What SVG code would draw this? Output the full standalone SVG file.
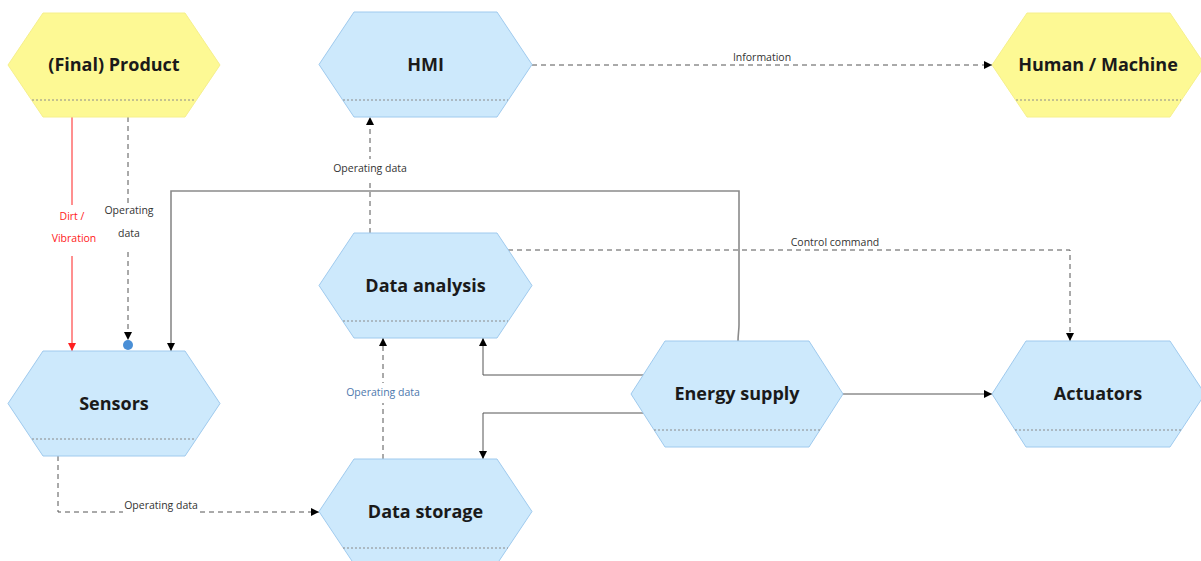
<svg xmlns="http://www.w3.org/2000/svg" width="1201" height="561" viewBox="0 0 1201 561">
<style>
.blue{fill:#cde9fc;stroke:#9fcaee;stroke-width:1}
.yellow{fill:#fdf994;stroke:#f6f08c;stroke-width:1}
.sep{stroke:#8a8a8a;stroke-width:1;stroke-dasharray:2,2;fill:none}
.title{font-family:"Open Sans",sans-serif;font-weight:bold;font-size:18px;fill:#1a1a1a;text-anchor:middle}
.lbl{font-family:"Open Sans",sans-serif;font-size:10.5px;fill:#333;text-anchor:middle}
.dash{fill:none;stroke:#555;stroke-width:1;stroke-dasharray:5,4}
.solid{fill:none;stroke:#555;stroke-width:1}
.solid2{fill:none;stroke:#8a8a8a;stroke-width:1.6}
.red{fill:none;stroke:#ff2020;stroke-width:1}
.bg{fill:#fff}
</style>
<defs>
<marker id="ah" viewBox="0 0 10 10" refX="10" refY="5" markerWidth="8" markerHeight="8" markerUnits="userSpaceOnUse" orient="auto"><path d="M0,0 L10,5 L0,10 z" fill="#000"/></marker>
<marker id="ahr" viewBox="0 0 10 10" refX="10" refY="5" markerWidth="8" markerHeight="8" markerUnits="userSpaceOnUse" orient="auto"><path d="M0,0 L10,5 L0,10 z" fill="#ff2020"/></marker>
</defs>

<g id="connectors">
<path class="dash" d="M532,65 L992,65" marker-end="url(#ah)"/>
<path class="dash" d="M370,233 L370,117" marker-end="url(#ah)"/>
<path class="dash" d="M508,250 L1070,250 L1070,341" marker-end="url(#ah)"/>
<path class="solid2" d="M738,341 C738,335 739,330 739,325 L739,191 L171,191 L171,351" marker-end="url(#ah)"/>
<path class="solid" d="M643,375 L483,375 L483,338" marker-end="url(#ah)"/>
<path class="solid" d="M643,413 L483,413 L483,459" marker-end="url(#ah)"/>
<path class="solid" d="M843,394 L992,394" marker-end="url(#ah)"/>
<path class="dash" d="M383,459 L383,338" marker-end="url(#ah)"/>
<path class="dash" d="M58,456 L58,512 L319,512" marker-end="url(#ah)"/>
<path class="red" d="M72,117 L72,351" marker-end="url(#ahr)"/>
<path class="dash" d="M128,117 L128,340" marker-end="url(#ah)"/>
<circle cx="128" cy="345" r="5" fill="#4a8fd6"/>

<rect class="bg" x="731" y="50" width="62" height="14"/>
<text class="lbl" x="762" y="61">Information</text>
<rect class="bg" x="332" y="159" width="76" height="20"/>
<text class="lbl" x="370" y="172">Operating data</text>
<rect class="bg" x="790" y="236" width="91" height="13"/>
<text class="lbl" x="835" y="246">Control command</text>
<rect class="bg" x="345" y="383" width="76" height="20"/>
<text class="lbl" x="383" y="396" style="fill:#4d78ad">Operating data</text>
<rect class="bg" x="123" y="498" width="76" height="16"/>
<text class="lbl" x="161" y="509">Operating data</text>
<rect class="bg" x="48" y="205" width="48" height="51"/>
<text class="lbl" x="72" y="220" style="fill:#ff2020">Dirt /</text>
<text class="lbl" x="74" y="242" style="fill:#ff2020">Vibration</text>
<rect class="bg" x="103" y="203" width="51" height="47"/>
<text class="lbl" x="129" y="214">Operating</text>
<text class="lbl" x="129" y="237">data</text>
</g>

<g id="product">
<path class="yellow" d="M43,13 L185,13 L220,65 L185,117 L43,117 L8,65 Z"/>
<line class="sep" x1="32" y1="100" x2="196" y2="100"/>
<text class="title" x="114" y="71">(Final) Product</text>
</g>
<g id="hmi">
<path class="blue" d="M354,12 L497,12 L532,64.5 L497,117 L354,117 L319,64.5 Z"/>
<line class="sep" x1="343" y1="100" x2="508" y2="100"/>
<text class="title" x="425.5" y="71">HMI</text>
</g>
<g id="human-machine">
<path class="yellow" d="M1027,13 L1170,13 L1205,65 L1170,117 L1027,117 L992,65 Z"/>
<line class="sep" x1="1016" y1="100" x2="1181" y2="100"/>
<text class="title" x="1098" y="71">Human / Machine</text>
</g>
<g id="data-analysis">
<path class="blue" d="M354,233 L497,233 L532,285.5 L497,338 L354,338 L319,285.5 Z"/>
<line class="sep" x1="343" y1="321" x2="508" y2="321"/>
<text class="title" x="425.5" y="292">Data analysis</text>
</g>
<g id="sensors">
<path class="blue" d="M43,351 L185,351 L220,403.5 L185,456 L43,456 L8,403.5 Z"/>
<line class="sep" x1="32" y1="439" x2="196" y2="439"/>
<text class="title" x="114" y="410">Sensors</text>
</g>
<g id="energy-supply">
<path class="blue" d="M665,341 L809,341 L843,394 L809,447 L665,447 L631,394 Z"/>
<line class="sep" x1="654" y1="430" x2="820" y2="430"/>
<text class="title" x="737" y="400">Energy supply</text>
</g>
<g id="actuators">
<path class="blue" d="M1026,341 L1170,341 L1205,394 L1170,447 L1026,447 L992,394 Z"/>
<line class="sep" x1="1015" y1="430" x2="1181" y2="430"/>
<text class="title" x="1098" y="400">Actuators</text>
</g>
<g id="data-storage">
<path class="blue" d="M354,459 L497,459 L532,511.5 L497,564 L354,564 L319,511.5 Z"/>
<line class="sep" x1="343" y1="548" x2="508" y2="548"/>
<text class="title" x="425.5" y="518">Data storage</text>
</g>
</svg>
